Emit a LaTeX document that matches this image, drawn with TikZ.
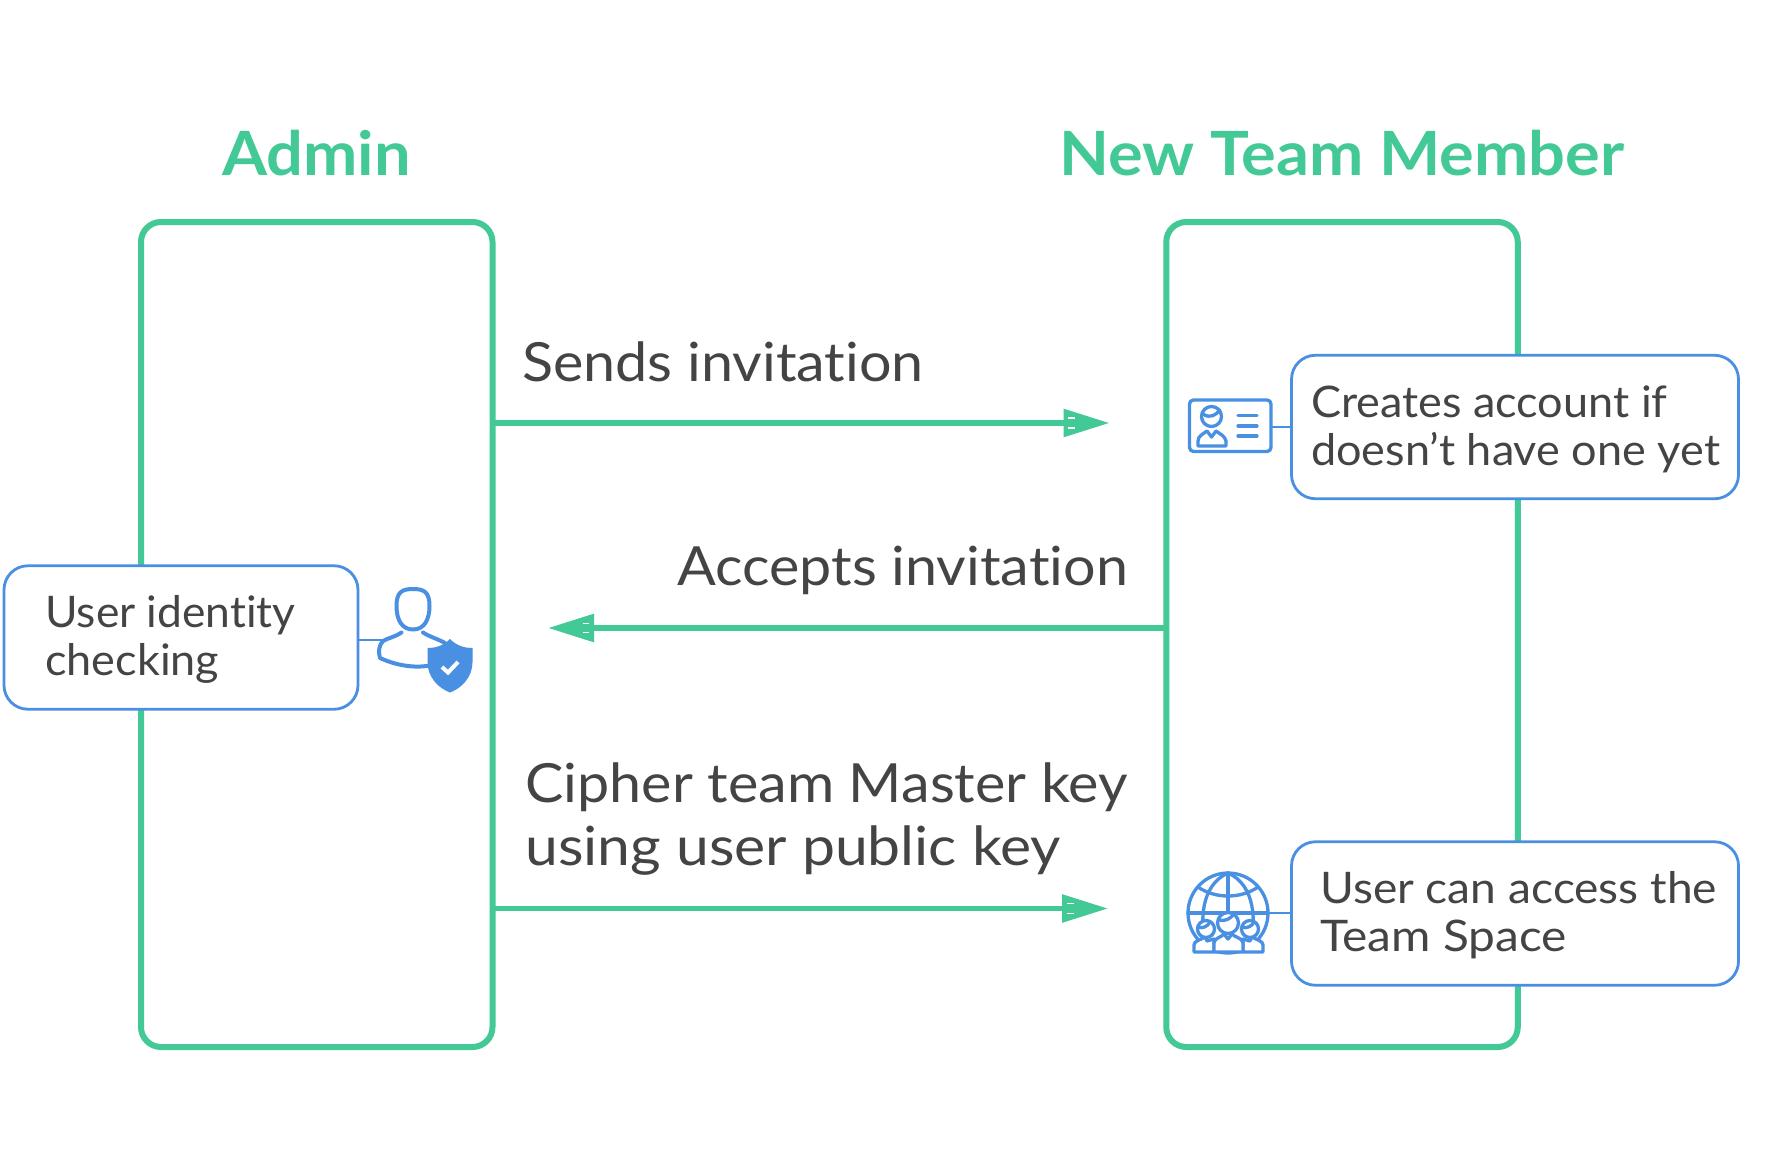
\documentclass[tikz,border=0pt]{standalone}
\usepackage{fontspec}
\setmainfont{Lato}[FakeStretch=1.064,Ligatures=NoCommon]
\newfontfamily\boxfont{Lato}[FakeStretch=1.035,Ligatures=NoCommon]
\newfontfamily\boxfontwide{Lato}[FakeStretch=1.06,Ligatures=NoCommon]
\newfontfamily\boxfontwider{Lato}[FakeStretch=1.1,Ligatures=NoCommon]
\newfontfamily\boxfontslim{Lato}[FakeStretch=1.02,Ligatures=NoCommon]
\newfontfamily\flowfontwide{Lato}[FakeStretch=1.09,Ligatures=NoCommon]
\usetikzlibrary{arrows.meta,calc}
\definecolor{flowgreen}{HTML}{43C995}
\definecolor{iconblue}{HTML}{4A90E2}
\definecolor{inktext}{HTML}{444444}
\tikzset{
  lane/.style={draw=flowgreen,line width=6pt,rounded corners=20pt,inner sep=0pt,outer sep=0pt,minimum width=351.5pt,minimum height=825pt},
  callout/.style={draw=iconblue,line width=2.8pt,fill=white,rounded corners=24pt,inner sep=0pt,outer sep=0pt,minimum height=143.5pt},
  title/.style={font=\fontsize{61}{70}\selectfont\bfseries,text=flowgreen,inner sep=0pt,anchor=base},
  flowlabel/.style={font=\fontsize{54}{63}\selectfont,text=inktext,inner sep=0pt,anchor=base west},
  boxlabel/.style={font=\fontsize{43.5}{48}\selectfont,text=inktext,inner sep=0pt,anchor=base west},
  flow/.style={draw=flowgreen,line width=5.8pt,-{Triangle[length=46pt,width=27pt]}},
  slit/.style={draw=white,line width=1.8pt},
  tie/.style={draw=iconblue,line width=2.8pt},
  iconline/.style={draw=iconblue,line width=3.3pt,line cap=round,line join=round},
}
\begin{document}
\begin{tikzpicture}[x=1pt,y=-1pt]
\useasboundingbox (0,0) rectangle (1767,1170);
\fill[white] (0,0) rectangle (1767,1170);
% lanes
\node[lane] (admin) at (316.75,634.5) {};
\node[lane] (member) at (1342,634.5) {};
% titles
\node[title] (admintitle) at (316.5,175) {Admin};
\node[title] (membertitle) at (1342,175) {New Team Member};
% flows
\coordinate (tipa) at (1109.5,423);
\coordinate (tipb) at (548,628);
\coordinate (tipc) at (1108,908.5);
\draw[flow] (admin.east |- tipa) -- (tipa);
\draw[flow] (member.west |- tipb) -- (tipb);
\draw[flow] (admin.east |- tipc) -- (tipc);
\draw[slit] (1068,418) -- (1075,418) (1068,428) -- (1075,428);
\draw[slit] (583,623.5) -- (589,623.5) (583,632.5) -- (589,632.5);
\draw[slit] (1067,903.5) -- (1074,903.5) (1067,913.5) -- (1074,913.5);
% flow labels
\node[flowlabel] (send) at (522,381.5) {Sends invitation};
\node[flowlabel] (accept) at (677,585.5) {Accepts invitation};
\node[flowlabel] (cipherone) at (525,802) {Cipher team Master key};
\node[flowlabel] (ciphertwo) at (525,865) {\flowfontwide using user public key};
% callouts
\node[callout,minimum width=354pt] (check) at (181,637.5) {};
\node[callout,minimum width=447pt] (create) at (1515,427) {};
\node[callout,minimum width=447pt] (access) at (1515,913.5) {};
\node[boxlabel] (checka) at (45,627.5) {\boxfontslim User identity};
\node[boxlabel] (checkb) at (45,675.5) {\boxfont checking};
\node[boxlabel] (createa) at (1311,417.5) {\boxfont Creates account if};
\node[boxlabel] (createb) at (1311,465.5) {\boxfont doesn’t have one yet};
\node[boxlabel] (accessa) at (1320,903.5) {\boxfontwide User can access the};
\node[boxlabel] (accessb) at (1320,951.5) {\boxfontwider Team Space};
% ties
\coordinate (usericon) at (384,640);
\coordinate (cardicon) at (1271,427);
\coordinate (globeicon) at (1268,913);
\draw[tie] (check.east |- usericon) -- (usericon);
\draw[tie] (create.west |- cardicon) -- (cardicon);
\draw[tie] (access.west |- globeicon) -- (globeicon);
% user + shield icon
\draw[iconline,line width=4pt] (396.5,606) .. controls (396.5,592) and (402,589) .. (413,589) .. controls (424,589) and (429.5,592) .. (429.5,606) .. controls (429.5,620) and (424,629.5) .. (413,629.5) .. controls (402,629.5) and (396.5,620) .. (396.5,606) -- cycle;
\draw[iconline,line width=4pt] (401.5,632.5) .. controls (395,637) and (388,638) .. (383,641) .. controls (379,645) and (378,652) .. (380,658) .. controls (395,665) and (415,669) .. (432,665);
\draw[iconline,line width=4pt] (423,632.5) .. controls (430,637) and (438,639) .. (445,643);
\fill[iconblue] (450,639) .. controls (456,645) and (463,648) .. (472.5,648) -- (472.5,662) .. controls (472.5,677) and (462,688) .. (450,692.5) .. controls (438,688) and (427.5,677) .. (427.5,662) -- (427.5,648) .. controls (437,648) and (444,645) .. (450,639) -- cycle;
\draw[draw=white,line width=4pt] (442,667) -- (448,672.5) -- (458,662);
% id card icon
\draw[iconline,rounded corners=4pt] (1189.5,400) rectangle (1271,451.5);
\draw[iconline] (1211.5,416.5) circle (10);
\draw[iconline] (1203,414) .. controls (1210,419) and (1216,415) .. (1220,410);
\draw[iconline] (1198,446) -- (1198,441) .. controls (1198,436) and (1203,434) .. (1207,431) -- (1211.5,437) -- (1216,431) .. controls (1220,434) and (1225,436) .. (1226,441) -- (1226,446) -- cycle;
\draw[iconline] (1238,415.5) -- (1257,415.5) (1238,426) -- (1257,426) (1238,436) -- (1257,436);
% globe icon
\draw[iconline] (1228,913) circle (40);
\draw[iconline] (1228,873) -- (1228,913) (1188,913) -- (1268,913);
\draw[iconline] (1228,873) .. controls (1200,885) and (1200,925) .. (1206,940);
\draw[iconline] (1228,873) .. controls (1256,885) and (1256,925) .. (1250,940);
\draw[iconline] (1198,887) .. controls (1215,899) and (1241,899) .. (1258,887);
% people in front of the globe
\path[fill=white] (1193,953) -- (1193,944) -- (1213,935) -- (1215,953) -- cycle;
\path[fill=white] (1264,953) -- (1264,944) -- (1243,935) -- (1241,953) -- cycle;
\draw[iconline,fill=white] (1194,952) -- (1194,945) .. controls (1194,941) and (1200,940) .. (1205,937) -- (1207,941) -- (1214,939) -- (1214,952) -- cycle;
\draw[iconline,fill=white] (1263,952) -- (1263,945) .. controls (1263,941) and (1257,940) .. (1252,937) -- (1250,941) -- (1243,939) -- (1243,952) -- cycle;
\draw[iconline,fill=white] (1206,929) circle (8.5);
\draw[iconline,fill=white] (1250,929) circle (8.5);
\draw[iconline,fill=white] (1214,952) -- (1214,943) .. controls (1214,938) and (1222,937) .. (1224,934) -- (1228,939) -- (1232,934) .. controls (1234,937) and (1243,938) .. (1243,943) -- (1243,952) -- cycle;
\draw[iconline,fill=white] (1228,923) circle (10.5);
\draw[iconline] (1219,920) .. controls (1225,922) and (1231,918) .. (1233,915);
\draw[iconline] (1198,927) .. controls (1203,929) and (1208,926) .. (1210,922);
\draw[iconline] (1242,927) .. controls (1247,929) and (1252,926) .. (1254,922);
\end{tikzpicture}
\end{document}
